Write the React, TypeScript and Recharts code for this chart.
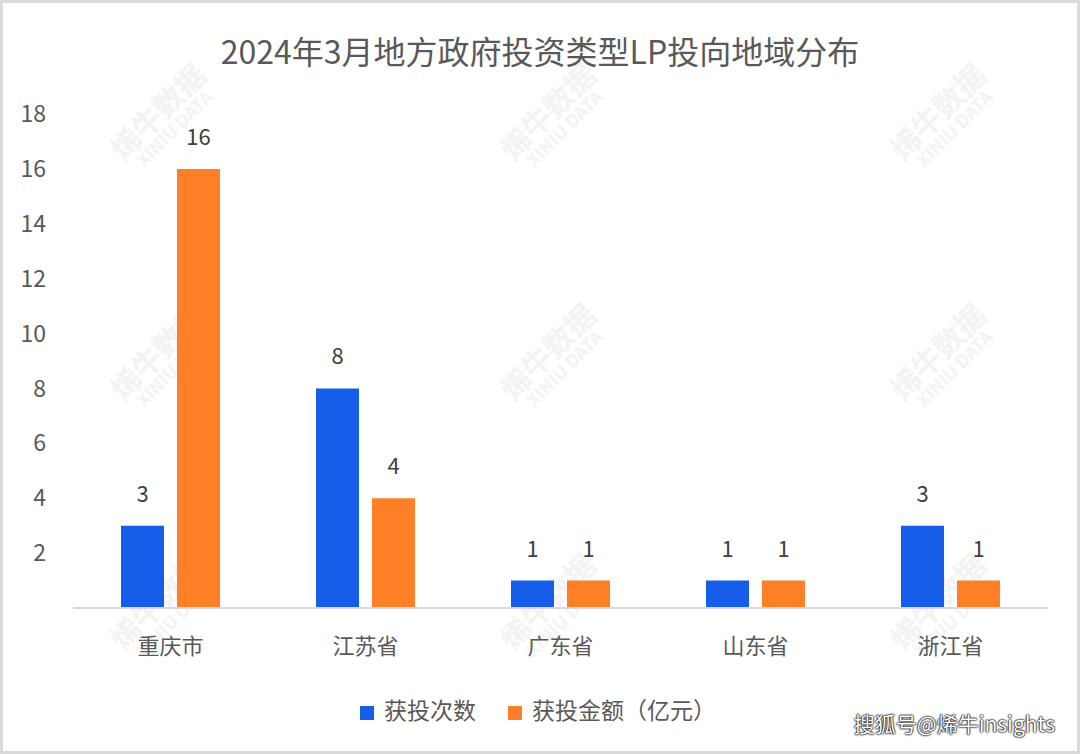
import React from "react";
import { BarChart, Bar, XAxis, YAxis, Legend, LabelList } from "recharts";

const regions = ["重庆市", "江苏省", "广东省", "山东省", "浙江省"];
const investCount = [3, 8, 1, 1, 3];
const investAmount = [16, 4, 1, 1, 1];
const yTicks = [2, 4, 6, 8, 10, 12, 14, 16, 18];

const data = regions.map((name, i) => ({
  name,
  count: investCount[i],
  amount: investAmount[i],
}));

const FONT = '"Noto Sans CJK SC", "Noto Sans", sans-serif';

const marks = [
  [150, 130], [540, 130], [930, 130],
  [150, 370], [540, 370], [930, 370],
  [150, 620], [540, 620], [930, 620],
];

export default function App() {
  return (
    <div
      style={{
        position: "absolute",
        left: 0,
        top: 0,
        width: 1080,
        height: 754,
        background: "#fff",
        border: "3px solid #dadada",
        boxSizing: "border-box",
        fontFamily: FONT,
        overflow: "hidden",
      }}
    >
      {/* faint watermark */}
      {marks.map(([x, y], i) => (
        <div
          key={i}
          style={{
            position: "absolute",
            left: x - 50,
            top: y - 40,
            transform: "rotate(-45deg)",
            color: "#f3f3f3",
            fontWeight: 700,
            lineHeight: 1,
            textAlign: "center",
          }}
        >
          <div style={{ fontSize: 30 }}>烯牛数据</div>
          <div style={{ fontSize: 18 }}>XINIU DATA</div>
        </div>
      ))}
      <div
        style={{
          position: "absolute",
          left: -3,
          top: 25,
          width: 1080,
          textAlign: "center",
          fontSize: 32,
          color: "#595959",
          lineHeight: "44px",
        }}
      >
        2024年3月地方政府投资类型LP投向地域分布
      </div>
      <div style={{ position: "absolute", left: -3, top: -3 }}>
        <BarChart
          width={1080}
          height={754}
          data={data}
          margin={{ top: 114, right: 32, bottom: 30, left: 0 }}
          barGap={13}
          barSize={43}
        >
          <XAxis
            dataKey="name"
            tickLine={false}
            axisLine={{ stroke: "#d9d9d9", strokeWidth: 2 }}
            tick={{ fill: "#595959", fontSize: 22, fontFamily: FONT }}
            tickSize={0}
            tickMargin={30}
            height={86}
          />
          <YAxis
            domain={[0, 18]}
            ticks={yTicks}
            interval={0}
            axisLine={false}
            tickLine={false}
            tickSize={0}
            tickMargin={27}
            width={73}
            tick={{ fill: "#595959", fontSize: 23, fontFamily: FONT }}
          />
          <Legend
            verticalAlign="bottom"
            iconType="square"
            iconSize={14}
            wrapperStyle={{ fontSize: 23, fontFamily: FONT, lineHeight: "30px", left: 3, width: 1080 }}
            formatter={(value, entry, index) => (
              <span style={{ color: "#595959", fontSize: 23, marginLeft: 6, marginRight: index === 0 ? 22 : 0 }}>
                {value}
              </span>
            )}
          />
          <Bar dataKey="count" name="获投次数" fill="#165EEA" isAnimationActive={false}>
            <LabelList dataKey="count" position="top" offset={24} fill="#404040" fontSize={22} fontFamily={FONT} />
          </Bar>
          <Bar dataKey="amount" name="获投金额（亿元）" fill="#FF7F27" isAnimationActive={false}>
            <LabelList dataKey="amount" position="top" offset={24} fill="#404040" fontSize={22} fontFamily={FONT} />
          </Bar>
        </BarChart>
      </div>
      <div
        style={{
          position: "absolute",
          right: 22,
          bottom: 13,
          fontSize: 21,
          color: "#fff",
          fontFamily: '"Noto Sans CJK SC", sans-serif',
          textShadow: "0 0 2px #000, 0 0 2px #000, 0 0 1px #000",
        }}
      >
        搜狐号@烯牛insights
      </div>
    </div>
  );
}
